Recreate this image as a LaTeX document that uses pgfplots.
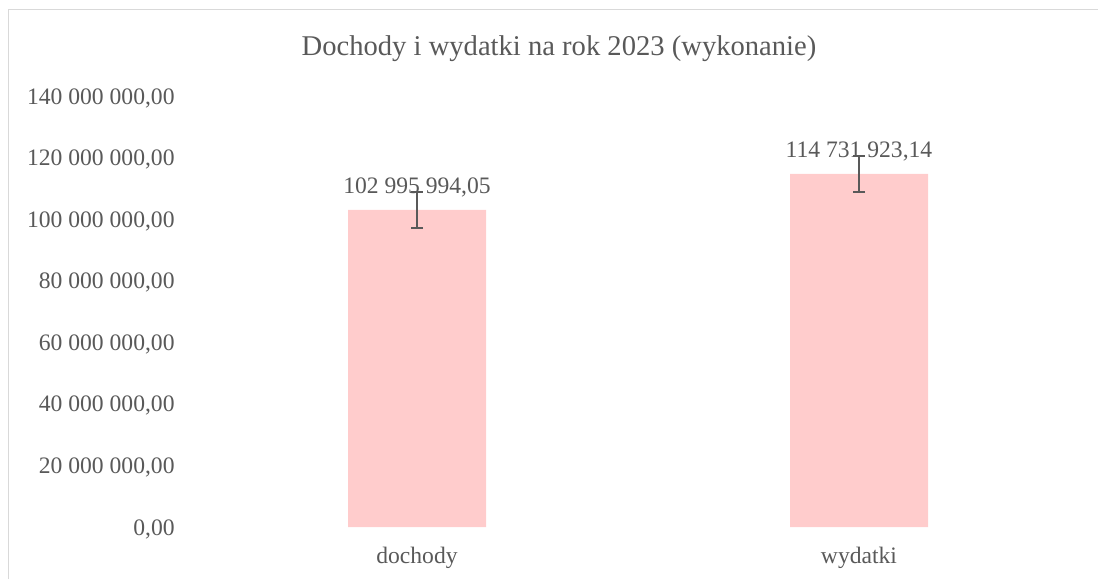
\documentclass[border=0pt]{standalone}
\usepackage{pgfplots}
\pgfplotsset{compat=1.18}
\usepackage{pgfplotstable}
\usepackage{fontspec}
\setmainfont{Liberation Serif}
\definecolor{txt}{HTML}{595959}
\definecolor{barc}{HTML}{FFCCCC}
\definecolor{framec}{HTML}{D9D9D9}

\pgfplotstableread[col sep=semicolon]{
x;y;err;lab
0;102995994.05;5867964.55;102 995 994,05
1;114731923.14;5867964.55;114 731 923,14
}\datatable

\begin{document}
\begin{tikzpicture}[x=1pt,y=1pt]
\useasboundingbox (0,0) rectangle (549,289.5);
\draw[framec, line width=0.7pt] (4.25,0) -- (4.25,284.75) -- (549,284.75);
\node[text=txt, font=\fontsize{14.3}{17}\selectfont, anchor=base] at (279.5,261.5) {Dochody i wydatki na rok 2023 (wykonanie)};
\begin{axis}[
  at={(98pt,26pt)}, anchor=south west,
  scale only axis, width=442pt, height=215.5pt,
  xmin=-0.5, xmax=1.5, ymin=0, ymax=140000000,
  axis line style={draw=none},
  major tick length=0pt,
  xtick={0,1}, xticklabels={dochody,wydatki},
  ytick={0,20000000,40000000,60000000,80000000,100000000,120000000,140000000},
  scaled y ticks=false,
  tick label style={text=txt, font=\fontsize{11.8}{14}\selectfont},
  yticklabel style={anchor=east, inner sep=0pt, xshift=-10.5pt, yshift=-1pt},
  xticklabel style={anchor=base, inner sep=0pt, yshift=-18pt},
  /pgf/number format/.cd, fixed, fixed zerofill, precision=2, use comma, 1000 sep={\ }, assume math mode=true,
]
\addplot[ybar, bar width=69pt, fill=barc, draw=none,
  nodes near coords, point meta=explicit symbolic,
  nodes near coords style={anchor=base, yshift=8pt, text=txt, font=\fontsize{11.8}{14}\selectfont},
  error bars/.cd, y dir=both, y explicit,
  error bar style={txt, line width=1pt},
  error mark options={txt, line width=1pt, mark size=3pt, rotate=90}]
  table[x=x, y=y, y error=err, meta=lab] {\datatable};
\end{axis}
\end{tikzpicture}
\end{document}
